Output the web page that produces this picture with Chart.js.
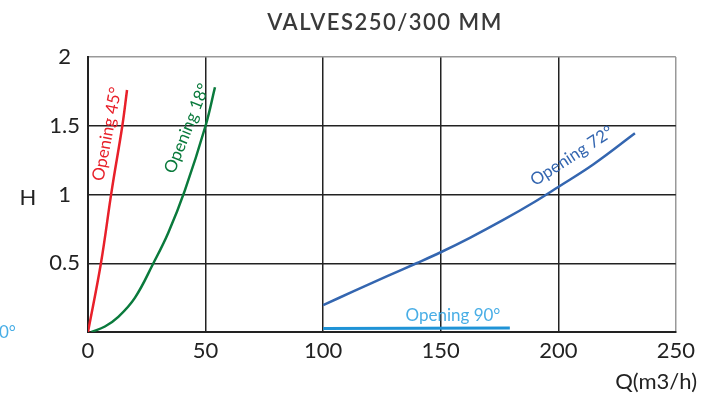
<!DOCTYPE html>
<html>
<head>
<meta charset="utf-8">
<script src="https://cdn.jsdelivr.net/npm/chart.js@4.4.1/dist/chart.umd.min.js"></script>
<style>
  html, body { margin: 0; padding: 0; background: #fff; }
  #wrap { width: 701px; height: 394px; position: relative; }
</style>
</head>
<body>
<div id="wrap"><canvas id="chart" width="701" height="394"></canvas></div>
<script>
// flow Q (m3/h) and head H for each valve opening
const q45 = [0, 5.5, 10.1, 14.6, 16.6];
const h45 = [0, 0.5, 1.03, 1.5, 1.76];

const q18 = [1.5, 7.2, 12.9, 20, 27.8, 34.1, 41.2, 50, 54];
const h18 = [0, 0.04, 0.11, 0.25, 0.5, 0.72, 1.03, 1.5, 1.78];

const q72 = [100, 112.8, 127, 139.7, 150, 162.4, 176.6, 189.3, 200, 215, 232.6];
const h72 = [0.196, 0.295, 0.405, 0.5, 0.58, 0.685, 0.815, 0.94, 1.055, 1.22, 1.445];

const q90 = [100, 179.4];
const h90 = [0.025, 0.03];

const xTicks = [0, 50, 100, 150, 200, 250];
const yTicks = [0, 0.5, 1, 1.5, 2];

// curve captions: text, Q, H, angle (deg), colour
const captions = [
  ['Opening 45°', 8.1, 1.44, -79, '#e8202a'],
  ['Opening 18°', 42.1, 1.48, -68, '#0a7a3c'],
  ['Opening 72°', 205.8, 1.28, -33, '#3466b0'],
  ['Opening 90°', 155.2, 0.123, 0, '#49aee6']
];

const FONT = 'Lato, "Open Sans", sans-serif';

function pts(xs, ys) {
  return xs.map((x, i) => ({ x: x, y: ys[i] }));
}

function series(label, xs, ys, color, width) {
  return {
    label: label,
    data: pts(xs, ys),
    borderColor: color,
    backgroundColor: color,
    borderWidth: width,
    pointRadius: 0,
    tension: 0.4,
    fill: false
  };
}

const textPlugin = {
  id: 'texts',
  afterDraw(chart) {
    const ctx = chart.ctx;
    const xs = chart.scales.x;
    const ys = chart.scales.y;
    ctx.save();
    ctx.textBaseline = 'middle';

    captions.forEach(([txt, q, h, ang, col]) => {
      ctx.save();
      ctx.translate(xs.getPixelForValue(q), ys.getPixelForValue(h));
      ctx.rotate(ang * Math.PI / 180);
      ctx.font = '17px ' + FONT;
      ctx.fillStyle = col;
      ctx.textAlign = 'center';
      ctx.fillText(txt, 0, 0);
      ctx.restore();
    });

    // stray caption piece at the left edge
    ctx.font = '17px ' + FONT;
    ctx.fillStyle = '#49aee6';
    ctx.textAlign = 'left';
    ctx.fillText('0°', -1, 333);

    // title
    ctx.font = '600 22px ' + FONT;
    ctx.letterSpacing = '1.5px';
    ctx.fillStyle = '#3a3a3a';
    ctx.textAlign = 'center';
    ctx.fillText('VALVES250/300 MM', 385, 23);
    ctx.letterSpacing = '0px';

    // axis titles
    ctx.font = '22px ' + FONT;
    ctx.fillStyle = '#222';
    ctx.textAlign = 'center';
    ctx.fillText('H', 28, 198);
    ctx.textAlign = 'right';
    ctx.fillText('Q(m3/h)', 697, 382);
    ctx.restore();
  }
};

new Chart(document.getElementById('chart'), {
  type: 'line',
  data: {
    datasets: [
      series('Opening 45°', q45, h45, '#e8202a', 2.5),
      series('Opening 18°', q18, h18, '#0a7a3c', 2.5),
      series('Opening 72°', q72, h72, '#3466b0', 2.5),
      series('Opening 90°', q90, h90, '#1f93d6', 3)
    ]
  },
  options: {
    responsive: false,
    animation: false,
    layout: { padding: { left: 0, right: 24, top: 57, bottom: 0 } },
    plugins: {
      legend: { display: false },
      tooltip: { enabled: false }
    },
    scales: {
      x: {
        type: 'linear',
        min: 0,
        max: 250,
        afterFit(scale) { scale.height = 62; },
        afterBuildTicks(scale) { scale.ticks = xTicks.map(v => ({ value: v })); },
        ticks: {
          color: '#222',
          font: { family: FONT, size: 22 },
          padding: 6,
          maxRotation: 0
        },
        grid: {
          drawTicks: false,
          lineWidth: 1.5,
          color: (c) => (c.tick && c.tick.value === 250 ? '#999' : '#222')
        },
        border: { display: true, color: '#222', width: 2 }
      },
      y: {
        type: 'linear',
        min: 0,
        max: 2,
        afterFit(scale) { scale.width = 88; },
        afterBuildTicks(scale) { scale.ticks = yTicks.map(v => ({ value: v })); },
        ticks: {
          color: '#222',
          font: { family: FONT, size: 22 },
          padding: 8,
          crossAlign: 'center',
          callback: (v) => (v === 0 ? '' : String(v))
        },
        grid: {
          drawTicks: false,
          lineWidth: 1.5,
          color: (c) => (c.tick && c.tick.value === 2 ? '#999' : '#222')
        },
        border: { display: true, color: '#222', width: 2 }
      }
    }
  },
  plugins: [textPlugin]
});
</script>
</body>
</html>
